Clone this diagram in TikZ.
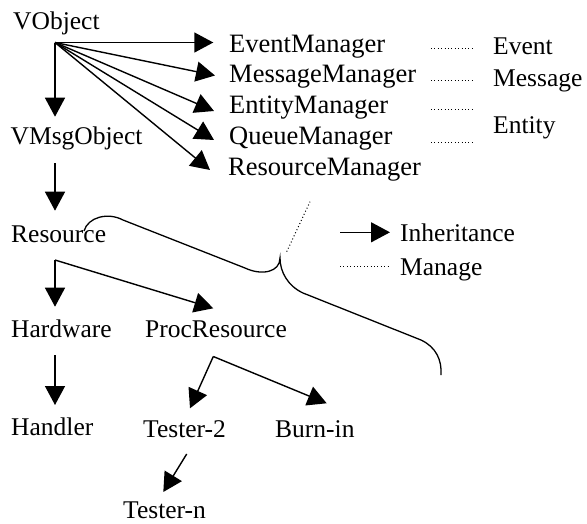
\documentclass[tikz,border=0pt]{standalone}
\usepackage{fontspec}
\setmainfont{Liberation Serif}
\usetikzlibrary{arrows.meta}
\begin{document}
\begin{tikzpicture}[x=1pt,y=-1pt,
  lbl/.style={anchor=base west,inner sep=0pt,font=\fontsize{25.5}{30}\selectfont},
  mgr/.style={lbl,font=\fontsize{26.5}{30}\selectfont},
  inh/.style={line width=1.4pt,-{Triangle[length=19pt,width=20pt]}},
  mng/.style={line width=1pt,dash pattern=on 1pt off 2.4pt},
  bracestyle/.style={line width=1.3pt}]
\useasboundingbox (0,0) rectangle (587,523);

% text nodes
\node[lbl] (vobj) at (13,29) {VObject};
\node[lbl] (vmsg) at (10.5,144) {VMsgObject};
\node[mgr] (evm) at (229,52.5) {EventManager};
\node[mgr] (msm) at (229,82.7) {MessageManager};
\node[mgr] (enm) at (229,113.5) {EntityManager};
\node[mgr] (qum) at (229,144) {QueueManager};
\node[mgr] (rsm) at (228,175.5) {ResourceManager};
\node[lbl] (ev) at (493,54) {Event};
\node[lbl] (ms) at (493,86) {Message};
\node[lbl] (en) at (493,133) {Entity};
\node[lbl] (res) at (11,242) {Resource};
\node[lbl] (inhl) at (400,241) {Inheritance};
\node[lbl] (mngl) at (400,275) {Manage};
\node[lbl] (hw) at (11,337) {Hardware};
\node[lbl] (pr) at (145,337) {ProcResource};
\node[lbl] (hd) at (11,435) {Handler};
\node[lbl] (t2) at (143,437) {Tester-2};
\node[lbl] (bi) at (275,437) {Burn-in};
\node[lbl] (tn) at (123,518.5) {Tester-n};

% connector points
\coordinate (vo) at (55,42.5);
\coordinate (vmsgtip) at (55,116.7);
\coordinate (evtip) at (213.3,42.5);
\coordinate (mstip) at (215,75.5);
\coordinate (entip) at (214,111);
\coordinate (qutip) at (214,140);
\coordinate (rstip) at (210,170);
\coordinate (vmsgbot) at (55,163);
\coordinate (restip) at (55,210.7);
\coordinate (rj) at (55,260);
\coordinate (hwtip) at (55,306.7);
\coordinate (prtip) at (213.3,308.3);
\coordinate (hwbot) at (55,355);
\coordinate (hdtip) at (55,405);
\coordinate (pj) at (213.3,356.5);
\coordinate (t2tip) at (190,408.3);
\coordinate (bitip) at (326.7,403.3);
\coordinate (t2bot) at (186.7,454);
\coordinate (tntip) at (163.3,492);

% inheritance arrows
\draw[inh] (vo) -- (vmsgtip);
\draw[inh] (vo) -- (evtip);
\draw[inh] (vo) -- (mstip);
\draw[inh] (vo) -- (entip);
\draw[inh] (vo) -- (qutip);
\draw[inh] (vo) -- (rstip);
\draw[inh] (vmsgbot) -- (restip);
\draw[inh] (rj) -- (hwtip);
\draw[inh] (rj) -- (prtip);
\draw[inh] (hwbot) -- (hdtip);
\draw[inh] (pj) -- (t2tip);
\draw[inh] (pj) -- (bitip);
\draw[inh] (t2bot) -- (tntip);

% manage lines
\coordinate (d1a) at (431,48);   \coordinate (d1b) at (472,48);
\coordinate (d2a) at (431,80);   \coordinate (d2b) at (472,80);
\coordinate (d3a) at (431,109);  \coordinate (d3b) at (472,109);
\coordinate (d4a) at (431,142);  \coordinate (d4b) at (472,142);
\draw[mng] (d1a) -- (d1b);
\draw[mng] (d2a) -- (d2b);
\draw[mng] (d3a) -- (d3b);
\draw[mng] (d4a) -- (d4b);
\coordinate (bd1) at (286.7,251.7);
\coordinate (bd2) at (310,201.7);
\draw[mng] (bd1) -- (bd2);

% brace
\draw[bracestyle] (84,231) .. controls (88,217) and (108,212) .. (123,220)
  -- (245,268) .. controls (262,276) and (280,272) .. (280,258)
  .. controls (280,272) and (288,286) .. (303,293)
  -- (421,340) .. controls (436,347) and (442,360) .. (441,375);

% legend
\coordinate (la) at (340,232.3); \coordinate (lb) at (390,232.3);
\draw[inh] (la) -- (lb);
\coordinate (lc) at (340,266); \coordinate (ld) at (388,266);
\draw[mng] (lc) -- (ld);
\end{tikzpicture}
\end{document}
